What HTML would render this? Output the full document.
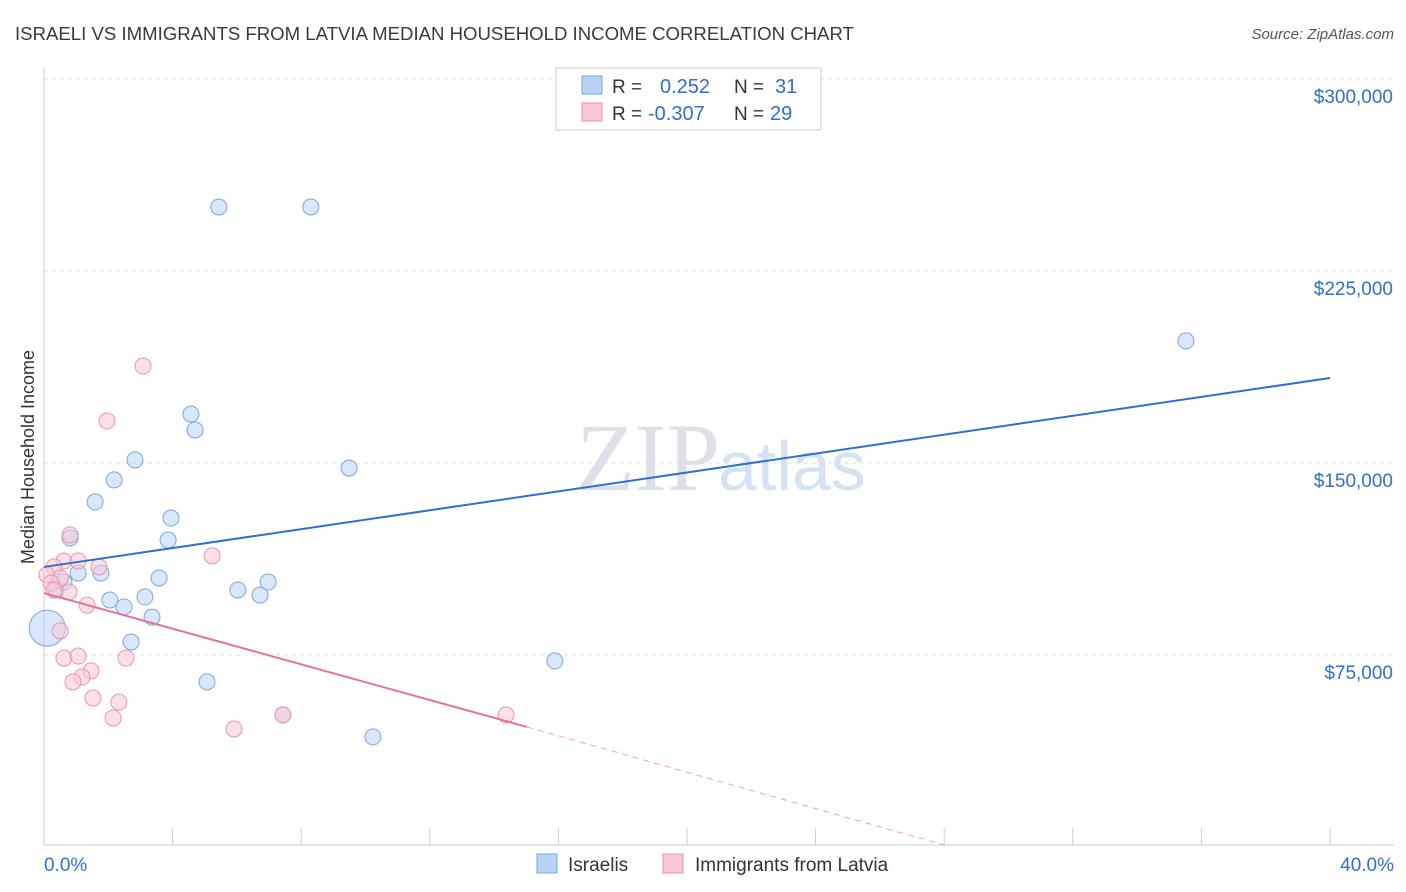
<!DOCTYPE html>
<html><head><meta charset="utf-8">
<style>
body{margin:0;background:#fff;font-family:"Liberation Sans",sans-serif;}
svg{display:block}
</style></head>
<body>
<svg id="chart" width="1406" height="892">
<text x="15" y="40" font-size="18.6" fill="#3a3a3a">ISRAELI VS IMMIGRANTS FROM LATVIA MEDIAN HOUSEHOLD INCOME CORRELATION CHART</text>
<text x="1394" y="39" font-size="15" fill="#555" font-style="italic" text-anchor="end">Source: ZipAtlas.com</text>
<text x="0" y="0" transform="translate(34,457) rotate(-90)" font-size="18" fill="#333" text-anchor="middle">Median Household Income</text>
<text x="720" y="490" font-size="96" fill="#dde0e6" text-anchor="end" font-family="Liberation Serif">ZIP</text>
<text x="718" y="490" font-size="70" fill="#d4e2f4">atlas</text>
<g id="grid"></g><g id="marks"></g>
<g>
<rect x="556" y="68" width="265" height="62" fill="#fff" stroke="#ccc"/>
<rect x="582" y="76" width="20" height="18" fill="#b8d3f5" stroke="#7aa7e0"/>
<rect x="582" y="103" width="20" height="18" fill="#f9c6d5" stroke="#ec93ae"/>
<text x="612" y="93" font-size="19" fill="#333">R = </text><text x="660" y="93" font-size="20" fill="#2f6fd0">0.252</text>
<text x="734" y="93" font-size="19" fill="#333">N = </text><text x="775" y="93" font-size="20" fill="#2f6fd0">31</text>
<text x="612" y="120" font-size="19" fill="#333">R = </text><text x="648" y="120" font-size="20" fill="#2f6fd0">-0.307</text>
<text x="734" y="120" font-size="19" fill="#333">N = </text><text x="770" y="120" font-size="20" fill="#2f6fd0">29</text>
</g>
<g>
<rect x="537" y="854" width="20" height="19" fill="#b8d3f5" stroke="#7aa7e0"/>
<text x="568" y="871" font-size="19" fill="#333">Israelis</text>
<rect x="663" y="854" width="20" height="19" fill="#f9c6d5" stroke="#ec93ae"/>
<text x="695" y="871" font-size="19" fill="#333">Immigrants from Latvia</text>
</g>
<text x="44" y="871" font-size="19" fill="#2f6fd0">0.0%</text>
<text x="1394" y="871" font-size="19" fill="#2f6fd0" text-anchor="end">40.0%</text>
</svg>
<script>
const yTicks=[75000,150000,225000,300000];
const yTickLabels=["$75,000","$150,000","$225,000","$300,000"];
const xTicks=[4,8,12,16,20,24,28,32,36,40];
const israeliX=[5.44,8.30,35.52,4.57,4.70,2.83,2.18,9.49,1.59,3.95,0.81,3.86,1.06,1.77,3.58,6.97,6.03,6.72,0.37,3.14,2.05,2.49,3.36,2.71,15.89,5.07,7.43,10.23,0.1,0.62];
const israeliY=[250,250,197.7,169.1,162.9,151.2,143.4,148.0,134.8,128.5,120.7,119.9,107,107,105.1,103.5,100.4,98.4,100.4,97.7,96.5,93.8,89.8,80.1,72.7,64.5,51.6,43.0,85.5,103.5];
const latviaX=[3.08,1.96,0.81,5.23,0.62,1.06,1.71,0.31,0.09,0.5,0.22,0.78,0.31,1.34,0.5,0.62,1.06,2.55,1.46,1.18,0.9,1.52,2.33,2.15,5.91,7.43,14.37];
const latviaY=[187.9,166.4,121.9,113.7,111.7,111.7,109.4,109.4,106.3,105.1,103.1,99.6,100.4,94.5,84.4,73.8,74.6,73.8,68.8,66.4,64.5,58.2,56.6,50.4,46.1,51.6,51.6];
const blueLine=[[0,109.4],[40,183.2]];
const pinkLine=[[0,99.2],[15.02,46.9]];
const pinkDash=[[15.02,46.9],[28.0,0.8]];
const X=p=>44+p*32.15, Y=v=>847-v/75*192;
const NS="http://www.w3.org/2000/svg";
const grid=document.getElementById('grid'), marks=document.getElementById('marks');
function mk(tag,attrs,parent){const e=document.createElementNS(NS,tag);for(const k in attrs)e.setAttribute(k,attrs[k]);parent.appendChild(e);return e;}
let ax=mk('line',{x1:44,y1:845,x2:1394,y2:845,stroke:'#ccc'},grid);


let ay=mk('line',{x1:44,y1:68,x2:44,y2:845,stroke:'#ccc'},grid);


yTicks.forEach((t,i)=>{
 let g=mk('line',{x1:44,y1:Y(t/1000),x2:1394,y2:Y(t/1000),stroke:'#ddd','stroke-dasharray':'4,4'},grid);
 
 
 let l=mk('text',{x:1393,y:Y(t/1000)+24,'font-size':19,fill:'#2f6fd0','text-anchor':'end'},grid);
 l.textContent=yTickLabels[i];
 
 
});
xTicks.forEach(t=>{
 let k=mk('line',{x1:X(t),y1:828,x2:X(t),y2:845,stroke:'#ccc'},grid);
 
 
});
function dots(xs,ys,fill,stroke,name){xs.forEach((x,i)=>{
 let c=mk('circle',{cx:X(x),cy:Y(ys[i]),r:(name==='israeli-point'&&x<0.2)?18:8,fill:fill,'fill-opacity':0.55,stroke:stroke,'stroke-width':1},marks);
 
 
});}
dots(israeliX,israeliY,'#b8d3f5','#7aa7e0','israeli-point');
dots(latviaX,latviaY,'#f9c6d5','#ec93ae','latvia-point');
let b=mk('line',{x1:X(blueLine[0][0]),y1:Y(blueLine[0][1]),x2:X(blueLine[1][0]),y2:Y(blueLine[1][1]),stroke:'#2f6fd0','stroke-width':2},marks);


let p=mk('line',{x1:X(pinkLine[0][0]),y1:Y(pinkLine[0][1]),x2:X(pinkLine[1][0]),y2:Y(pinkLine[1][1]),stroke:'#e8709a','stroke-width':2},marks);


let d=mk('line',{x1:X(pinkDash[0][0]),y1:Y(pinkDash[0][1]),x2:X(pinkDash[1][0]),y2:Y(pinkDash[1][1]),stroke:'#f0a0ba','stroke-width':1,'stroke-dasharray':'6,5'},marks);


</script>
</body></html>
